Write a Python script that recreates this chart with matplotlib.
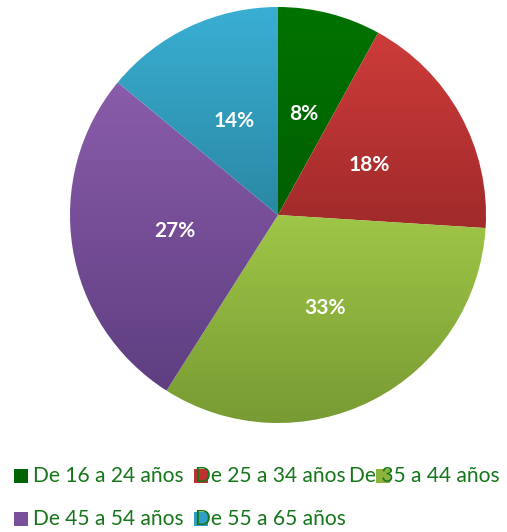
import matplotlib.pyplot as plt
import numpy as np
from matplotlib.colors import LinearSegmentedColormap
from matplotlib.patches import Rectangle

# datos
grupos = ["De 16 a 24 años", "De 25 a 34 años", "De 35 a 44 años",
          "De 45 a 54 años", "De 55 a 65 años"]
porcentajes = [8, 18, 33, 27, 14]
# colores (arriba, abajo) para el degradado de cada sector
colores_arriba = ["#007300", "#cd3c3a", "#9fc647", "#8a5cab", "#3aafd3"]
colores_abajo = ["#005f00", "#a12a2a", "#789a33", "#5e3e80", "#2a88a4"]
color_leyenda = ["#006400", "#c0302f", "#8db43f", "#7a4f9c", "#2f9fc4"]

W, H = 507, 532
fig = plt.figure(figsize=(W / 100, H / 100), dpi=100)

cx, cy, r = 278, 215, 208
ax = fig.add_axes([(cx - r) / W, 1 - (cy + r) / H, 2 * r / W, 2 * r / H])

wedges, textos, autotextos = ax.pie(
    porcentajes, startangle=90, counterclock=False, radius=1,
    autopct='%d%%', pctdistance=0.5,
    textprops=dict(color='white', fontsize=15, fontweight='bold', family='Lato'))
ax.set_aspect('equal')
ax.axis('off')

# degradado vertical dentro de cada sector
for w, c1, c2 in zip(wedges, colores_arriba, colores_abajo):
    w.set_facecolor('none')
    w.set_edgecolor('none')
    path = w.get_path()
    verts = w.get_patch_transform().transform(path.vertices)
    x0, x1 = verts[:, 0].min(), verts[:, 0].max()
    y0, y1 = verts[:, 1].min(), verts[:, 1].max()
    cmap = LinearSegmentedColormap.from_list('g', [c2, c1])
    grad = np.linspace(0, 1, 256).reshape(-1, 1)
    im = ax.imshow(grad, cmap=cmap, origin='lower', extent=[x0, x1, y0, y1],
                   aspect='auto', zorder=1, interpolation='bilinear')
    im.set_clip_path(w)
for t in autotextos:
    t.set_zorder(5)
ax.set_xlim(-1, 1)
ax.set_ylim(-1, 1)

# leyenda manual (como en el original, con solapes)
marcador_x = [14, 194, 376, 14, 194]
texto_x = [33, 195, 349, 33, 195]
fila_y = [476, 476, 476, 519, 519]
for g, c, mx, tx, fy in zip(grupos, color_leyenda, marcador_x, texto_x, fila_y):
    fig.patches.append(Rectangle((mx / W, 1 - (fy + 7) / H), 14 / W, 14 / H,
                                 transform=fig.transFigure, facecolor=c,
                                 edgecolor='none', zorder=1))
    fig.text(tx / W, 1 - fy / H, g, color='#16761a', fontsize=15.1,
             family='Lato', va='center', ha='left', zorder=3)

fig.savefig('out.png', dpi=100)
